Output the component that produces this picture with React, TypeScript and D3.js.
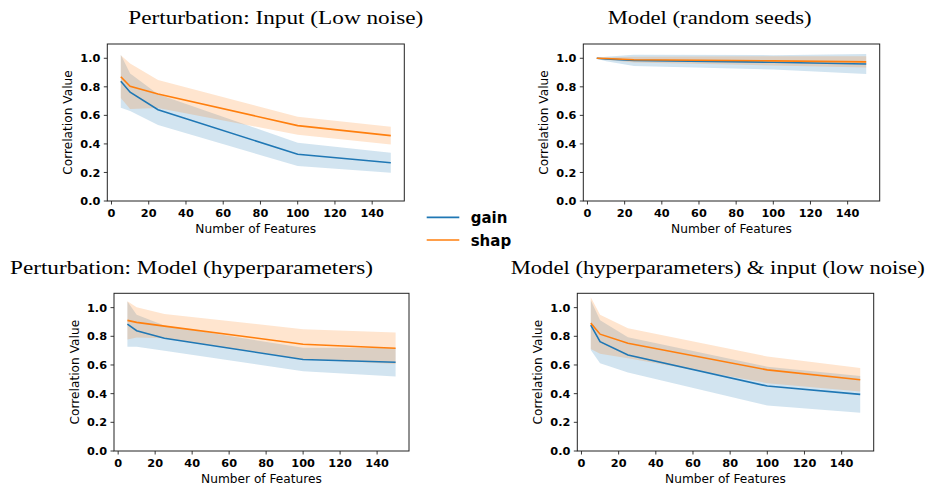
import React from "react";
import * as d3 from "d3";

// ---------- data ----------
const features = [5, 10, 25, 100, 150];
const xTickValues = [0, 20, 40, 60, 80, 100, 120, 140];
const yTickValues = [0, 0.2, 0.4, 0.6, 0.8, 1.0];
const seriesNames = ["gain", "shap"];
const seriesColors = ["#1f77b4", "#ff7f0e"];

const panelTitles = [
  "Perturbation: Input (Low noise)",
  "Model (random seeds)",
  "Perturbation: Model (hyperparameters)",
  "Model (hyperparameters) & input (low noise)",
];

// Panel 1: Input (low noise)
const inputGainMean = [0.839, 0.762, 0.64, 0.327, 0.268];
const inputGainStd = [0.185, 0.132, 0.108, 0.082, 0.07];
const inputShapMean = [0.871, 0.804, 0.75, 0.528, 0.458];
const inputShapStd = [0.15, 0.16, 0.098, 0.063, 0.063];

// Panel 2: Model (random seeds)
const seedsGainMean = [1.0, 0.995, 0.985, 0.972, 0.96];
const seedsGainStd = [0.003, 0.015, 0.04, 0.05, 0.07];
const seedsShapMean = [1.0, 0.998, 0.99, 0.982, 0.975];
const seedsShapStd = [0.002, 0.008, 0.02, 0.032, 0.04];

// Panel 3: Model (hyperparameters)
const hyperGainMean = [0.885, 0.839, 0.787, 0.638, 0.619];
const hyperGainStd = [0.158, 0.112, 0.088, 0.082, 0.1];
const hyperShapMean = [0.911, 0.897, 0.871, 0.745, 0.717];
const hyperShapStd = [0.133, 0.105, 0.084, 0.105, 0.11];

// Panel 4: Model (hyperparameters) & input (low noise)
const bothGainMean = [0.878, 0.762, 0.67, 0.453, 0.395];
const bothGainStd = [0.173, 0.15, 0.123, 0.135, 0.129];
const bothShapMean = [0.892, 0.815, 0.752, 0.566, 0.497];
const bothShapStd = [0.18, 0.136, 0.105, 0.093, 0.082];

const panelSeries = [
  [
    { mean: inputGainMean, std: inputGainStd },
    { mean: inputShapMean, std: inputShapStd },
  ],
  [
    { mean: seedsGainMean, std: seedsGainStd },
    { mean: seedsShapMean, std: seedsShapStd },
  ],
  [
    { mean: hyperGainMean, std: hyperGainStd },
    { mean: hyperShapMean, std: hyperShapStd },
  ],
  [
    { mean: bothGainMean, std: bothGainStd },
    { mean: bothShapMean, std: bothShapStd },
  ],
];

// ---------- layout ----------
const W = 935;
const H = 492;
const boxes = [
  { left: 107.3, right: 404.3, top: 44, bottom: 201 },
  { left: 583.3, right: 879.7, top: 44, bottom: 201 },
  { left: 114, right: 409, top: 293.3, bottom: 451 },
  { left: 577.3, right: 873.7, top: 293.3, bottom: 451 },
];
const titlePos = [
  { x: 128.3, w: 295, y: 24 },
  { x: 607.7, w: 204, y: 24 },
  { x: 10, w: 363, y: 274 },
  { x: 510.7, w: 414, y: 274 },
];

const sansFont = "'DejaVu Sans', sans-serif";
const serifFont = "'Liberation Serif', 'DejaVu Serif', serif";

function Panel({ idx }: { idx: number }) {
  const b = boxes[idx];
  const x = d3.scaleLinear().domain([-2.25, 157.25]).range([b.left, b.right]);
  const y = d3.scaleLinear().domain([0, 1.1]).range([b.bottom, b.top]);
  const series = panelSeries[idx];
  const clipId = `clip-${idx}`;
  const t = titlePos[idx];

  return (
    <g>
      <defs>
        <clipPath id={clipId}>
          <rect x={b.left} y={b.top} width={b.right - b.left} height={b.bottom - b.top} />
        </clipPath>
      </defs>
      <text
        x={t.x}
        y={t.y}
        fontFamily={serifFont}
        fontSize={18}
        textLength={t.w}
        lengthAdjust="spacingAndGlyphs"
        fill="#000"
      >
        {panelTitles[idx]}
      </text>
      <g clipPath={`url(#${clipId})`}>
        {series.map((s, si) => {
          const area = d3
            .area<number>()
            .x((_, i) => x(features[i]))
            .y0((_, i) => y(s.mean[i] - s.std[i]))
            .y1((_, i) => y(s.mean[i] + s.std[i]));
          return (
            <path key={"a" + si} d={area(features) || ""} fill={seriesColors[si]} fillOpacity={0.2} stroke="none" />
          );
        })}
        {series.map((s, si) => {
          const line = d3
            .line<number>()
            .x((_, i) => x(features[i]))
            .y((_, i) => y(s.mean[i]));
          return (
            <path key={"l" + si} d={line(features) || ""} fill="none" stroke={seriesColors[si]} strokeWidth={1.6} />
          );
        })}
      </g>
      <rect
        x={b.left}
        y={b.top}
        width={b.right - b.left}
        height={b.bottom - b.top}
        fill="none"
        stroke="#222"
        strokeWidth={1}
      />
      {xTickValues.map((v) => (
        <g key={"xt" + v}>
          <line x1={x(v)} x2={x(v)} y1={b.bottom} y2={b.bottom + 3.5} stroke="#222" strokeWidth={0.9} />
          <text
            x={x(v)}
            y={b.bottom + 15.8}
            textAnchor="middle"
            fontFamily={sansFont}
            fontWeight="bold"
            fontSize={11.3}
            fill="#000"
          >
            {v}
          </text>
        </g>
      ))}
      {yTickValues.map((v) => (
        <g key={"yt" + v}>
          <line x1={b.left - 3.5} x2={b.left} y1={y(v)} y2={y(v)} stroke="#222" strokeWidth={0.9} />
          <text
            x={b.left - 7}
            y={y(v) + 4.1}
            textAnchor="end"
            fontFamily={sansFont}
            fontWeight="bold"
            fontSize={11.3}
            fill="#000"
          >
            {v.toFixed(1)}
          </text>
        </g>
      ))}
      <text
        x={(b.left + b.right) / 2}
        y={b.bottom + 32}
        textAnchor="middle"
        fontFamily={sansFont}
        fontSize={12.2}
        fill="#000"
      >
        Number of Features
      </text>
      <text
        transform={`translate(${b.left - 35},${(b.top + b.bottom) / 2}) rotate(-90)`}
        textAnchor="middle"
        fontFamily={sansFont}
        fontSize={12.2}
        fill="#000"
      >
        Correlation Value
      </text>
    </g>
  );
}

export default function App() {
  const legendY = [217.3, 240];
  return (
    <svg
      width={W}
      height={H}
      viewBox={`0 0 ${W} ${H}`}
      style={{ position: "absolute", left: 0, top: 0, background: "#fff" }}
    >
      <rect x={0} y={0} width={W} height={H} fill="#fff" />
      {boxes.map((_, i) => (
        <Panel key={i} idx={i} />
      ))}
      {seriesNames.map((name, i) => (
        <g key={name}>
          <line x1={426.7} x2={459.3} y1={legendY[i]} y2={legendY[i]} stroke={seriesColors[i]} strokeWidth={1.7} />
          <text
            x={470.7}
            y={legendY[i] + 5.8}
            fontFamily={sansFont}
            fontWeight="bold"
            fontSize={15}
            fill="#000"
          >
            {name}
          </text>
        </g>
      ))}
    </svg>
  );
}
